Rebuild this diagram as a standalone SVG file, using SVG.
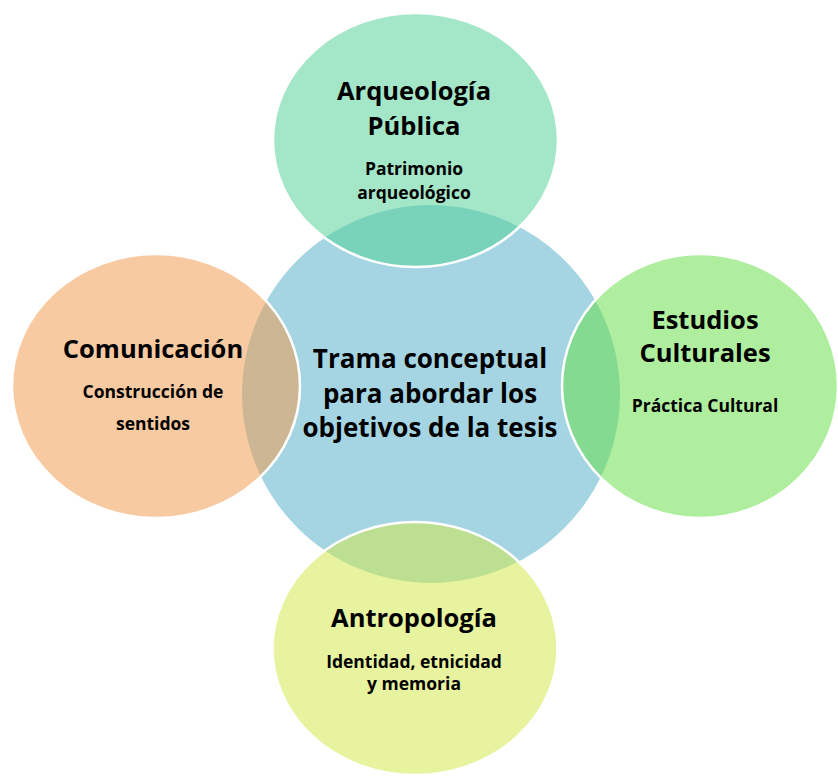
<svg xmlns="http://www.w3.org/2000/svg" width="838" height="776" viewBox="0 0 838 776">
<style>
.outer{stroke:#ffffff;stroke-width:2.5;fill-opacity:0.53}
.h{font-family:"Open Sans","Liberation Sans",sans-serif;font-weight:bold;font-size:25.5px;fill:#000;text-anchor:middle}
.s{font-family:"Open Sans","Liberation Sans",sans-serif;font-weight:bold;font-size:17.5px;fill:#000;text-anchor:middle}
.c{font-family:"Open Sans","Liberation Sans",sans-serif;font-weight:bold;font-size:26px;fill:#000;text-anchor:middle}
</style>
<rect width="838" height="776" fill="#ffffff"/>
<g id="center">
<circle cx="431" cy="394" r="189" fill="#A5D5E2"/>
<text class="c" x="430" y="368">Trama conceptual</text>
<text class="c" x="430" y="403">para abordar los</text>
<text class="c" x="430" y="437">objetivos de la tesis</text>
</g>
<g id="top">
<ellipse class="outer" cx="415.5" cy="140" rx="142.5" ry="127" fill="#53D098"/>
<text class="h" x="414" y="100">Arqueología</text>
<text class="h" x="414" y="135">Pública</text>
<text class="s" x="414" y="175">Patrimonio</text>
<text class="s" x="414" y="199">arqueológico</text>
</g>
<g id="left">
<ellipse class="outer" cx="156" cy="386" rx="144" ry="132" fill="#F29A4D"/>
<text class="h" x="153" y="358">Comunicación</text>
<text class="s" x="153" y="398">Construcción de</text>
<text class="s" x="153" y="430">sentidos</text>
</g>
<g id="right">
<ellipse class="outer" cx="700" cy="386" rx="138" ry="132" fill="#67DF49"/>
<text class="h" x="705" y="329">Estudios</text>
<text class="h" x="705" y="362">Culturales</text>
<text class="s" x="705" y="412">Práctica Cultural</text>
</g>
<g id="bottom">
<ellipse class="outer" cx="415" cy="648.5" rx="142.5" ry="126.5" fill="#D2E949"/>
<text class="h" x="414" y="627">Antropología</text>
<text class="s" x="414" y="668">Identidad, etnicidad</text>
<text class="s" x="414" y="690">y memoria</text>
</g>
<g id="connectors"></g>
</svg>
